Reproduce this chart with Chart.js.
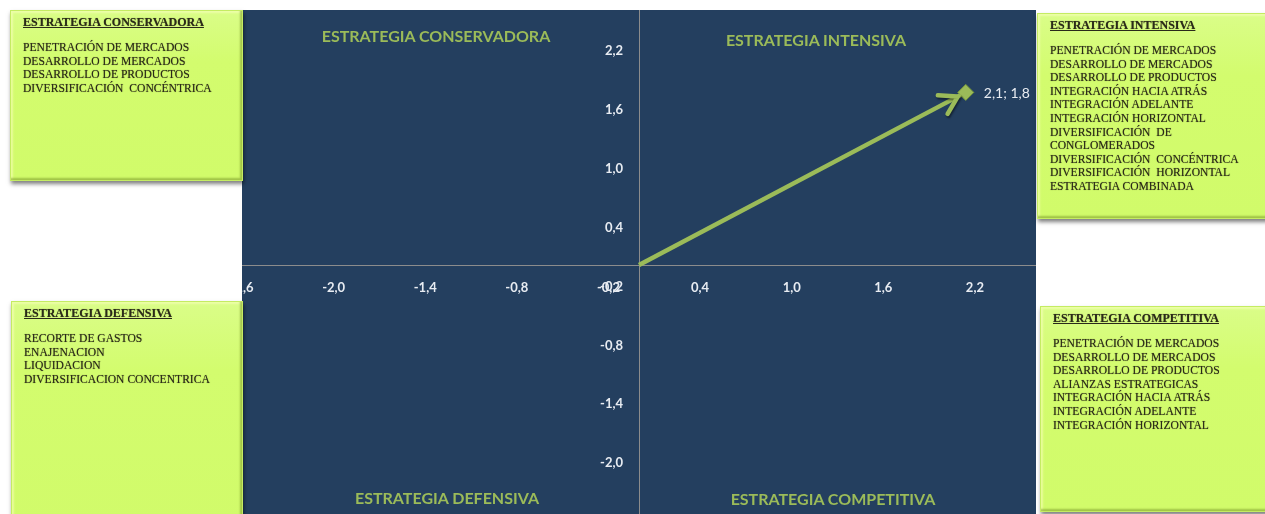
<!DOCTYPE html>
<html lang="es">
<head>
  <meta charset="UTF-8" />
  <title>Matriz de estrategias</title>
  <style>
    html, body {
      margin: 0;
      padding: 0;
      width: 1265px;
      height: 514px;
      overflow: hidden;
      background: #fff;
    }
    #plot {
      position: absolute;
      left: 242px;
      top: 10px;
      width: 794px;
      height: 510px;
      background: #243f5f;
    }
    #plot canvas { display: block; }
    .quad {
      position: absolute;
      transform: translate(-50%, -50%);
      font-family: Lato, sans-serif;
      font-weight: bold;
      font-size: 16px;
      color: #9bbb59;
      white-space: nowrap;
    }
    .box {
      position: absolute;
      box-sizing: border-box;
      padding: 5px 0 0 12px;
      background: linear-gradient(#dafd88, #d3fc6e 30%, #d1fb6a);
      border: 1px solid #c4ec62;
      box-shadow: 1px 3px 4px rgba(0,0,0,0.5), inset -2px -2px 2px rgba(120,150,40,0.55), inset 2px 2px 2px rgba(255,255,200,0.5);
      font-family: "Liberation Serif", serif;
      font-size: 11.6px;
      line-height: 13.6px;
      color: #2a2a1a;
      text-shadow: 0 0 1px rgba(40,40,0,0.6);
      white-space: pre;
    }
    .box .t {
      font-weight: bold;
      font-size: 12px;
      text-decoration: underline;
      margin-bottom: 11.5px;
    }
  </style>
</head>
<body>
  <div id="plot"><canvas id="chart" width="794" height="510"></canvas></div>
  <div id="labels"></div>

  <script src="https://cdn.jsdelivr.net/npm/chart.js"></script>
  <script>
    // datos
    const axisMin = -2.6;
    const axisMax = 2.6;
    const xTicks = [-2.6, -2.0, -1.4, -0.8, -0.2, 0.4, 1.0, 1.6, 2.2];
    const yTicks = [-2.6, -2.0, -1.4, -0.8, -0.2, 0.4, 1.0, 1.6, 2.2];
    const vectorX = [0, 2.14];
    const vectorY = [0, 1.76];

    const quadrantNames = ['ESTRATEGIA CONSERVADORA', 'ESTRATEGIA INTENSIVA', 'ESTRATEGIA DEFENSIVA', 'ESTRATEGIA COMPETITIVA'];
    const quadrantPos = [[436, 35], [816, 39], [447, 497], [833, 498]];

    const boxTitles = ['ESTRATEGIA CONSERVADORA', 'ESTRATEGIA INTENSIVA', 'ESTRATEGIA DEFENSIVA', 'ESTRATEGIA COMPETITIVA'];
    const boxItems = [
      ['PENETRACIÓN DE MERCADOS', 'DESARROLLO DE MERCADOS', 'DESARROLLO DE PRODUCTOS', 'DIVERSIFICACIÓN  CONCÉNTRICA'],
      ['PENETRACIÓN DE MERCADOS', 'DESARROLLO DE MERCADOS', 'DESARROLLO DE PRODUCTOS', 'INTEGRACIÓN HACIA ATRÁS',
       'INTEGRACIÓN ADELANTE', 'INTEGRACIÓN HORIZONTAL', 'DIVERSIFICACIÓN  DE', 'CONGLOMERADOS',
       'DIVERSIFICACIÓN  CONCÉNTRICA', 'DIVERSIFICACIÓN  HORIZONTAL', 'ESTRATEGIA COMBINADA'],
      ['RECORTE DE GASTOS', 'ENAJENACION', 'LIQUIDACION', 'DIVERSIFICACION CONCENTRICA'],
      ['PENETRACIÓN DE MERCADOS', 'DESARROLLO DE MERCADOS', 'DESARROLLO DE PRODUCTOS', 'ALIANZAS ESTRATEGICAS',
       'INTEGRACIÓN HACIA ATRÁS', 'INTEGRACIÓN ADELANTE', 'INTEGRACIÓN HORIZONTAL']
    ];
    const boxRects = [[10, 10, 233, 171], [1037, 13, 240, 206], [11, 301, 232, 230], [1040, 306, 240, 206]];

    const fmt = v => v.toFixed(1).replace('.', ',');

    // cajas y títulos (texto html)
    const holder = document.getElementById('labels');
    quadrantNames.forEach((name, i) => {
      const d = document.createElement('div');
      d.className = 'quad';
      d.style.left = quadrantPos[i][0] + 'px';
      d.style.top = quadrantPos[i][1] + 'px';
      d.textContent = name;
      holder.appendChild(d);
    });
    boxTitles.forEach((title, i) => {
      const b = document.createElement('div');
      const r = boxRects[i];
      b.className = 'box';
      b.style.left = r[0] + 'px';
      b.style.top = r[1] + 'px';
      b.style.width = r[2] + 'px';
      b.style.height = r[3] + 'px';
      const t = document.createElement('div');
      t.className = 't';
      t.textContent = title;
      b.appendChild(t);
      const body = document.createElement('div');
      body.textContent = boxItems[i].join('\n');
      b.appendChild(body);
      holder.appendChild(b);
    });

    // flecha y etiqueta del punto
    const extras = {
      id: 'extras',
      afterDatasetsDraw(chart) {
        const {ctx, scales: {x, y}} = chart;
        const x0 = x.getPixelForValue(vectorX[0]), y0 = y.getPixelForValue(vectorY[0]);
        const x1 = x.getPixelForValue(vectorX[1]), y1 = y.getPixelForValue(vectorY[1]);
        const ang = Math.atan2(y1 - y0, x1 - x0);
        const tx = x1 - Math.cos(ang) * 9, ty = y1 - Math.sin(ang) * 9;
        const len = 20, spread = 0.55;
        ctx.save();
        ctx.strokeStyle = '#9bbb59';
        ctx.lineWidth = 4.5;
        ctx.lineCap = 'round';
        ctx.lineJoin = 'miter';
        ctx.shadowColor = 'rgba(0,0,0,0.45)';
        ctx.shadowOffsetX = 1;
        ctx.shadowOffsetY = 2;
        ctx.shadowBlur = 2;
        ctx.beginPath();
        ctx.moveTo(tx - len * Math.cos(ang - spread), ty - len * Math.sin(ang - spread));
        ctx.lineTo(tx, ty);
        ctx.lineTo(tx - len * Math.cos(ang + spread), ty - len * Math.sin(ang + spread));
        ctx.stroke();
        ctx.restore();

        ctx.save();
        ctx.font = '14px Lato';
        ctx.fillStyle = '#e8ecf2';
        ctx.textBaseline = 'middle';
        ctx.fillText(fmt(vectorX[1]) + '; ' + fmt(vectorY[1]), x1 + 18, y1 + 1);
        ctx.restore();
      }
    };

    const tickFont = {family: 'Lato', weight: 'bold', size: 13};

    new Chart(document.getElementById('chart'), {
      type: 'scatter',
      data: {
        datasets: [
          {
            label: 'Punto',
            data: [{x: vectorX[1], y: vectorY[1]}],
            pointStyle: 'rectRot',
            pointRadius: 8,
            backgroundColor: '#9bbb59',
            borderColor: '#7a9a3a',
            borderWidth: 1,
            order: 0
          },
          {
            label: 'Vector',
            type: 'line',
            data: vectorX.map((v, i) => ({x: v, y: vectorY[i]})),
            borderColor: '#9bbb59',
            borderWidth: 4.5,
            pointRadius: 0,
            fill: false,
            order: 1
          }
        ]
      },
      options: {
        responsive: false,
        animation: false,
        layout: {padding: 0, autoPadding: false},
        plugins: {legend: {display: false}, tooltip: {enabled: false}},
        scales: {
          x: {
            type: 'linear',
            position: 'center',
            min: axisMin,
            max: axisMax,
            bounds: 'data',
            afterBuildTicks: s => { s.ticks = xTicks.map(v => ({value: v})); },
            afterFit: s => { s.height = 0; s.paddingLeft = 0; s.paddingRight = 0; },
            grid: {display: false, drawTicks: false},
            border: {display: true, color: '#8c8c8c', width: 1},
            ticks: {color: '#e8ecf2', font: tickFont, padding: 15, maxRotation: 0, autoSkip: false, callback: v => fmt(v)}
          },
          y: {
            type: 'linear',
            position: 'center',
            min: axisMin,
            max: axisMax,
            bounds: 'data',
            afterBuildTicks: s => { s.ticks = yTicks.map(v => ({value: v})); },
            afterFit: s => { s.width = 0; s.paddingTop = 0; s.paddingBottom = 0; },
            grid: {display: false, drawTicks: false},
            border: {display: true, color: '#8c8c8c', width: 1},
            ticks: {color: '#e8ecf2', font: tickFont, padding: 16, labelOffset: 2, autoSkip: false, callback: v => fmt(v)}
          }
        }
      },
      plugins: [extras]
    });
  </script>
</body>
</html>
